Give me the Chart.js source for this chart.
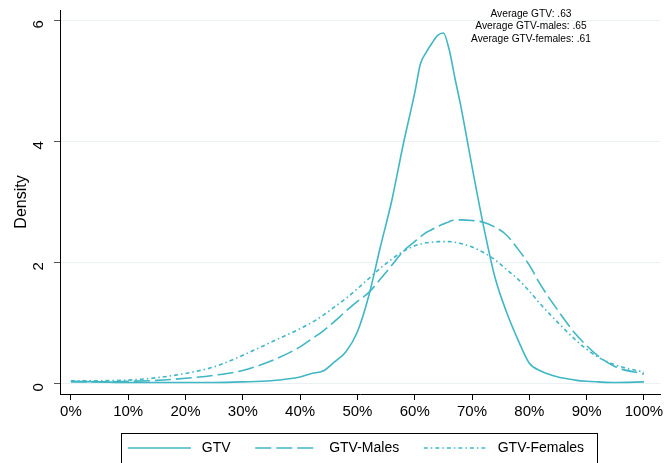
<!DOCTYPE html>
<html>
<head>
<meta charset="utf-8">
<script src="https://cdn.jsdelivr.net/npm/chart.js@4.4.1/dist/chart.umd.min.js"></script>
<style>
  html, body { margin: 0; padding: 0; background: #fff; }
  #wrap { width: 668px; height: 463px; }
</style>
</head>
<body>
<div id="wrap"><canvas id="grafico" width="668" height="463"></canvas></div>
<script>
// Valores (eixo x em %)
const xs = [0, 5, 10, 15, 20, 25, 30, 35, 40, 42, 44, 46, 48, 50, 52, 54, 56, 58, 60, 61, 62, 63, 64, 65, 66, 67, 68, 70, 72, 74, 76, 78, 80, 82, 85, 88, 90, 92, 95, 100];
const gtv = [0.03, 0.02, 0.01, 0.01, 0.01, 0.01, 0.02, 0.04, 0.1, 0.16, 0.2, 0.35, 0.52, 0.85, 1.45, 2.25, 3.02, 3.95, 4.8, 5.28, 5.47, 5.62, 5.75, 5.79, 5.52, 5.05, 4.6, 3.58, 2.6, 1.75, 1.18, 0.72, 0.33, 0.2, 0.1, 0.05, 0.03, 0.02, 0.01, 0.02];
const gtvMales = [0.02, 0.02, 0.03, 0.045, 0.08, 0.13, 0.21, 0.37, 0.6, 0.73, 0.86, 1.02, 1.19, 1.35, 1.5, 1.72, 1.95, 2.18, 2.34, 2.42, 2.49, 2.54, 2.59, 2.63, 2.67, 2.7, 2.7, 2.69, 2.66, 2.58, 2.45, 2.22, 1.95, 1.62, 1.2, 0.82, 0.62, 0.45, 0.27, 0.15];
const gtvFemales = [0.04, 0.04, 0.05, 0.09, 0.16, 0.27, 0.46, 0.68, 0.9, 1.0, 1.12, 1.26, 1.4, 1.56, 1.73, 1.9, 2.05, 2.18, 2.27, 2.3, 2.32, 2.33, 2.34, 2.34, 2.34, 2.33, 2.31, 2.25, 2.16, 2.04, 1.88, 1.72, 1.52, 1.3, 1.0, 0.72, 0.56, 0.43, 0.3, 0.18];
const xTicks = [0, 10, 20, 30, 40, 50, 60, 70, 80, 90, 100];
const yTicks = [0, 2, 4, 6];
const notas = ['Average GTV: .63', 'Average GTV-males: .65', 'Average GTV-females: .61'];

const cor = '#40b7c4';
const fonte = '"Liberation Sans", Arial, sans-serif';

function pontos(ys) {
    return xs.map((x, i) => ({ x: x, y: ys[i] }));
}

// Caixa da legenda e texto das médias
const extras = {
    id: 'extras',
    afterLayout(chart) {
        // puxa a legenda um pouco para a esquerda
        chart.legend.left -= 4;
        chart.legend.right -= 4;
    },
    afterDraw(chart) {
        const c = chart.ctx;
        const hb = chart.legend.legendHitBoxes;
        if (hb && hb.length) {
            const ult = hb[hb.length - 1];
            const x0 = hb[0].left - 7;
            const x1 = ult.left + ult.width + 13;
            const y0 = hb[0].top + hb[0].height / 2 - 15;
            c.save();
            c.strokeStyle = '#000';
            c.lineWidth = 1;
            c.strokeRect(Math.round(x0) + 0.5, Math.round(y0) + 0.5, Math.round(x1 - x0), 60);
            c.restore();
        }
        c.save();
        c.fillStyle = '#000';
        c.font = '10.2px ' + fonte;
        c.textAlign = 'center';
        c.textBaseline = 'middle';
        notas.forEach((t, i) => c.fillText(t, 531, 14 + i * 12.5));
        c.restore();
    }
};

const ctx = document.getElementById('grafico').getContext('2d');
new Chart(ctx, {
    type: 'line',
    data: {
        datasets: [{
            label: 'GTV',
            data: pontos(gtv),
            borderColor: cor,
            borderWidth: 1.6
        }, {
            label: 'GTV-Males',
            data: pontos(gtvMales),
            borderColor: cor,
            borderWidth: 1.6,
            borderDash: [16, 5]
        }, {
            label: 'GTV-Females',
            data: pontos(gtvFemales),
            borderColor: cor,
            borderWidth: 1.6,
            borderDash: [4, 3, 1.5, 3]
        }]
    },
    options: {
        responsive: false,
        animation: false,
        cubicInterpolationMode: 'monotone',
        elements: { point: { radius: 0 } },
        layout: { padding: { left: 12, right: 8, top: 10, bottom: -2 } },
        scales: {
            x: {
                type: 'linear',
                min: -1.9,
                max: 102.8,
                afterBuildTicks: s => { s.ticks = xTicks.map(v => ({ value: v })); },
                afterFit: s => { s.height = 34; },
                grid: { drawOnChartArea: false, tickLength: 6, tickColor: '#000' },
                border: { color: '#000', width: 1 },
                ticks: {
                    color: '#000',
                    font: { family: fonte, size: 15 },
                    padding: 3,
                    maxRotation: 0,
                    callback: v => v + '%'
                }
            },
            y: {
                min: -0.18,
                max: 6.17,
                afterBuildTicks: s => { s.ticks = yTicks.map(v => ({ value: v })); },
                afterFit: s => { s.width = 48; s.paddingTop = 0; s.paddingBottom = 0; },
                grid: { color: '#eaf1f3', tickLength: 6, tickColor: '#555' },
                border: { color: '#000', width: 1 },
                title: {
                    display: true,
                    text: 'Density',
                    color: '#000',
                    font: { family: fonte, size: 16 },
                    padding: 0
                },
                ticks: {
                    color: '#000',
                    font: { family: fonte, size: 15 },
                    minRotation: 90,
                    maxRotation: 90,
                    padding: 15
                }
            }
        },
        plugins: {
            tooltip: { enabled: false },
            legend: {
                position: 'bottom',
                fullSize: false,
                labels: {
                    color: '#000',
                    font: { family: fonte, size: 14 },
                    usePointStyle: true,
                    pointStyle: 'line',
                    pointStyleWidth: 63,
                    padding: 13,
                    generateLabels: chart => chart.data.datasets.map((ds, i) => ({
                        text: ' ' + ds.label + (i < chart.data.datasets.length - 1 ? '   ' : ''),
                        strokeStyle: ds.borderColor,
                        fillStyle: ds.borderColor,
                        lineWidth: ds.borderWidth,
                        lineDash: ds.borderDash || [],
                        pointStyle: 'line',
                        fontColor: '#000',
                        hidden: false,
                        datasetIndex: i
                    }))
                }
            }
        }
    },
    plugins: [extras]
});
</script>
</body>
</html>
